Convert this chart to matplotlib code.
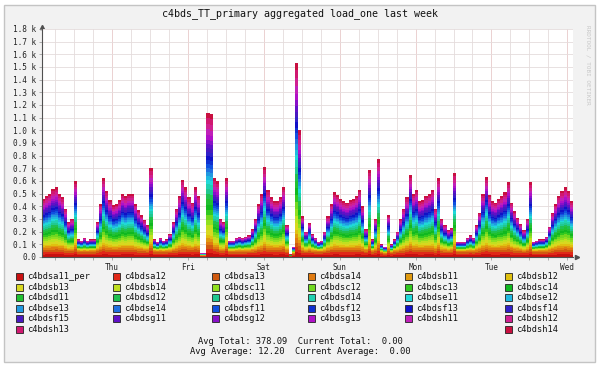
import numpy as np
import matplotlib
matplotlib.use("Agg")
import matplotlib.pyplot as plt
from matplotlib.patches import Rectangle

# hosts in legend order
hosts = ["c4bdsa11_per", "c4bdsa12", "c4bdsa13", "c4bdsa14", "c4bdsb11", "c4bdsb12",
         "c4bdsb13", "c4bdsb14", "c4bdsc11", "c4bdsc12", "c4bdsc13", "c4bdsc14",
         "c4bdsd11", "c4bdsd12", "c4bdsd13", "c4bdsd14", "c4bdse11", "c4bdse12",
         "c4bdse13", "c4bdse14", "c4bdsf11", "c4bdsf12", "c4bdsf13", "c4bdsf14",
         "c4bdsf15", "c4bdsg11", "c4bdsg12", "c4bdsg13", "c4bdsh11", "c4bdsh12",
         "c4bdsh13", "c4bdsh14"]

colors = ["#c81010", "#e02818", "#d05a10", "#e07a10", "#e09a10", "#e0c010",
          "#d8d820", "#c0e020", "#90e020", "#70d820", "#30c820", "#10b820",
          "#20c030", "#20c050", "#20c890", "#20d0b0", "#20d8d8", "#20b8e0",
          "#2098e0", "#2070e0", "#1050e0", "#1030d0", "#1010c8", "#3020c8",
          "#4818c0", "#6010c8", "#8810c8", "#b010c8", "#c020b8", "#d02090",
          "#d01870", "#c81040"]

# idle load per host and share of the extra load when busy
idle_load = [14, 12, 10, 8, 6, 5, 4, 2.5, 2.5, 2.5, 2.5, 2.5, 2.5, 2.5, 2.5, 2.5,
             2.5, 2.5, 2.5, 2.5, 2.5, 2.5, 2.5, 2.5, 2.5, 2.5, 2.5, 2.5, 2.5, 2.5,
             2.5, 2.5]
busy_share = [7, 8, 8, 9, 8, 8, 15, 16, 16, 16, 15, 16, 16, 16, 15, 15,
              12, 12, 13, 11, 12, 13, 12, 11, 12, 14, 13, 14, 17, 18, 18, 16]

# aggregated load (k) per hour over the week
total_k = [0.46, 0.48, 0.50, 0.54, 0.55, 0.50, 0.47, 0.38, 0.28, 0.30, 0.60, 0.14,
           0.13, 0.15, 0.13, 0.14, 0.14, 0.28, 0.42, 0.62, 0.52, 0.45, 0.41, 0.42,
           0.45, 0.50, 0.48, 0.50, 0.50, 0.42, 0.37, 0.33, 0.29, 0.25, 0.70, 0.14,
           0.12, 0.15, 0.13, 0.14, 0.18, 0.28, 0.38, 0.48, 0.61, 0.55, 0.47, 0.43,
           0.55, 0.48, 0.03, 0.03, 1.14, 1.13, 0.62, 0.60, 0.30, 0.28, 0.62, 0.13,
           0.13, 0.15, 0.16, 0.15, 0.16, 0.17, 0.22, 0.30, 0.42, 0.50, 0.71, 0.53,
           0.47, 0.44, 0.44, 0.47, 0.55, 0.25, 0.02, 0.08, 1.53, 1.00, 0.32, 0.20,
           0.27, 0.18, 0.15, 0.12, 0.13, 0.20, 0.32, 0.42, 0.51, 0.49, 0.46, 0.44,
           0.43, 0.45, 0.46, 0.48, 0.53, 0.40, 0.22, 0.69, 0.14, 0.30, 0.77, 0.10,
           0.08, 0.33, 0.10, 0.14, 0.20, 0.30, 0.38, 0.47, 0.65, 0.50, 0.53, 0.44,
           0.45, 0.48, 0.50, 0.53, 0.38, 0.62, 0.30, 0.25, 0.21, 0.23, 0.66, 0.12,
           0.12, 0.12, 0.15, 0.17, 0.15, 0.25, 0.35, 0.50, 0.63, 0.49, 0.44, 0.43,
           0.46, 0.48, 0.51, 0.59, 0.43, 0.36, 0.31, 0.26, 0.21, 0.30, 0.59, 0.12,
           0.13, 0.14, 0.14, 0.16, 0.24, 0.35, 0.42, 0.48, 0.52, 0.55, 0.52, 0.44]

days = ["Thu", "Fri", "Sat", "Sun", "Mon", "Tue", "Wed"]
first_midnight = 22.2  # hours after graph start

title = "c4bds_TT_primary aggregated load_one last week"
summary = ["Avg Total: 378.09  Current Total:  0.00",
           "Avg Average: 12.20  Current Average:  0.00"]

# split totals across hosts
total = np.array(total_k) * 1000
idle = np.array(idle_load)
share = np.array(busy_share) / np.sum(busy_share)
series = []
for t in total:
    if t <= idle.sum():
        series.append(idle * t / idle.sum())
    else:
        series.append(idle + (t - idle.sum()) * share)
series = np.array(series).T
series = np.hstack([series, series[:, -1:]])
hours = np.arange(len(total) + 1)

mono = "DejaVu Sans Mono"
fig = plt.figure(figsize=(6, 3.66), dpi=100, facecolor="white")

# overlay in pixel coordinates for frame, legend, texts
ov = fig.add_axes([0, 0, 1, 1], zorder=0)
ov.set_xlim(0, 600)
ov.set_ylim(366, 0)
ov.axis("off")
ov.add_patch(Rectangle((4, 5), 591, 357, facecolor="#f2f2f2", edgecolor="#c4c4c4", lw=1))

ax = fig.add_axes([42 / 600, 1 - 257 / 366, 531 / 600, 228 / 366], zorder=1)
ax.set_facecolor("white")
ax.stackplot(hours, series, colors=colors, step="post", linewidth=0, antialiased=False)
ax.set_xlim(0, 168)
ax.set_ylim(0, 1800)

yt = np.arange(0, 1801, 100)
ax.set_yticks(yt)
ax.set_yticklabels(["0.0"] + ["%.1f k" % (v / 1000) for v in yt[1:]])
day_pos = [first_midnight + 24 * i for i in range(len(days))]
ax.set_xticks(day_pos)
ax.set_xticklabels(days)
ax.set_xticks(np.arange(first_midnight - 18, 168, 6), minor=True)

ax.set_axisbelow(True)
ax.grid(True, which="both", color="#e4dcdc", lw=0.6)
ax.grid(True, which="major", axis="x", color="#e8caca", lw=0.6)
for sp in ["top", "right"]:
    ax.spines[sp].set_visible(False)
for sp in ["left", "bottom"]:
    ax.spines[sp].set_color("#505050")
    ax.spines[sp].set_linewidth(0.8)
ax.tick_params(axis="both", which="both", length=2, width=0.5, color="#909090",
               labelsize=5.6, pad=2, labelcolor="#222222")
for lab in ax.get_xticklabels() + ax.get_yticklabels():
    lab.set_fontfamily(mono)

# axis arrows
ov.plot([577], [257], marker=">", ms=3, color="#505050", zorder=3)
ov.plot([42], [27], marker="^", ms=3, color="#505050", zorder=3)

ov.text(300, 14, title, ha="center", va="center", fontsize=7.2, family=mono, color="#111111")
ov.text(588, 25, "RRDTOOL / TOBI OETIKER", rotation=270, ha="center", va="top",
        fontsize=4.3, family=mono, color="#c8c8c8")

# legend
col_x = [15.5, 112.5, 212, 308, 405, 505]
for i, (name, c) in enumerate(zip(hosts, colors)):
    if i < 30:
        row, col = i // 6, i % 6
    elif i == 30:
        row, col = 5, 0
    else:
        row, col = 5, 5
    y = 276.5 + row * 10.6
    x = col_x[col]
    ov.add_patch(Rectangle((x, y - 3.5), 7, 7, facecolor=c, edgecolor="#222222", lw=0.6))
    ov.text(x + 11.5, y, name, ha="left", va="center", fontsize=6.2, family=mono,
            color="#111111")

ov.text(300, 341, summary[0], ha="center", va="center", fontsize=6.3, family=mono, color="#111111")
ov.text(300, 351.5, summary[1], ha="center", va="center", fontsize=6.3, family=mono, color="#111111")

fig.savefig("out.png", dpi=100, facecolor="white")
